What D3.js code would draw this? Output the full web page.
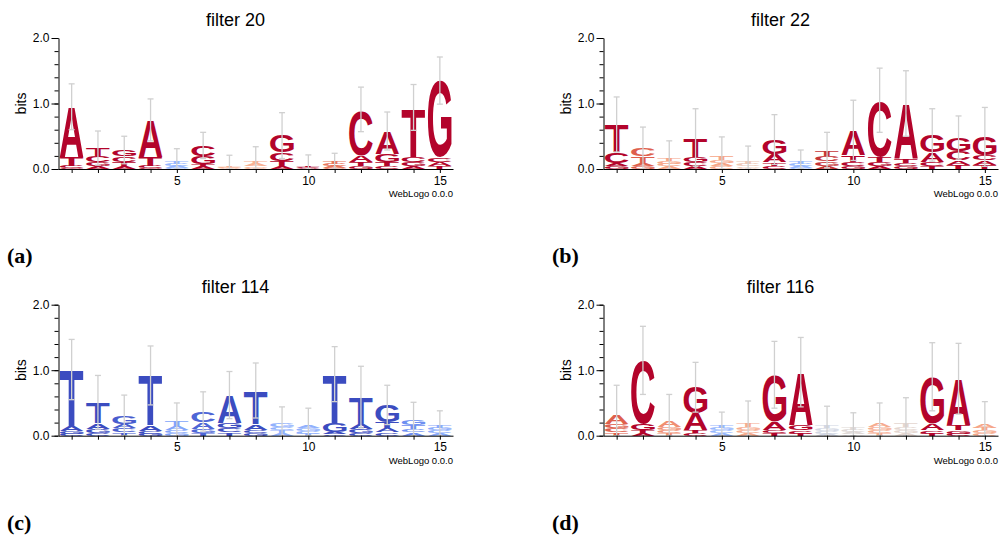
<!DOCTYPE html>
<html>
<head>
<meta charset="utf-8">
<script src="https://cdn.jsdelivr.net/npm/d3@7"></script>
<style>
body { margin: 0; background: #fff; }
svg { display: block; }
</style>
</head>
<body>
<svg id="chart" width="1002" height="543"></svg>
<script>
const positions = d3.range(1, 16);

// filter 20 (bits per base)
const f20A = [0.76, 0.04, 0.04, 0.56, 0.03, 0.03, 0.01, 0.03, 0.04, 0.01, 0.03, 0.11, 0.35, 0.05, 0.06];
const f20C = [0.03, 0.10, 0.09, 0.03, 0.03, 0.16, 0.01, 0.02, 0.13, 0.01, 0.03, 0.70, 0.04, 0.08, 0.07];
const f20G = [0.02, 0.06, 0.10, 0.02, 0.02, 0.13, 0.01, 0.02, 0.26, 0.005, 0.02, 0.04, 0.13, 0.06, 1.17];
const f20T = [0.14, 0.12, 0.06, 0.14, 0.04, 0.04, 0.01, 0.05, 0.08, 0.01, 0.03, 0.06, 0.06, 0.75, 0.05];
const f20Err = [0.35, 0.26, 0.21, 0.32, 0.19, 0.20, 0.17, 0.22, 0.35, 0.18, 0.13, 0.34, 0.29, 0.35, 0.36];
const f20Score = [1, 1, 1, 1, -0.3, 1, 0.3, 0.3, 1, 1, 0.65, 1, 1, 1, 1];

// filter 22
const f22A = [0.05, 0.05, 0.04, 0.04, 0.05, 0.02, 0.13, 0.03, 0.05, 0.38, 0.05, 0.85, 0.15, 0.07, 0.07];
const f22C = [0.17, 0.12, 0.04, 0.06, 0.04, 0.03, 0.05, 0.03, 0.08, 0.06, 0.86, 0.05, 0.06, 0.14, 0.08];
const f22G = [0.04, 0.04, 0.04, 0.09, 0.05, 0.02, 0.22, 0.02, 0.07, 0.05, 0.06, 0.04, 0.26, 0.21, 0.28];
const f22T = [0.42, 0.10, 0.05, 0.29, 0.06, 0.03, 0.05, 0.03, 0.09, 0.10, 0.08, 0.06, 0.05, 0.06, 0.06];
const f22Err = [0.42, 0.33, 0.26, 0.44, 0.29, 0.25, 0.38, 0.18, 0.27, 0.46, 0.49, 0.50, 0.40, 0.33, 0.45];
const f22Score = [1, 0.75, 0.4, 1, 0.4, 0.15, 1, -0.3, 0.9, 1, 1, 1, 1, 1, 1];

// filter 114
const f114A = [0.08, 0.09, 0.07, 0.09, 0.06, 0.10, 0.42, 0.09, 0.04, 0.05, 0.03, 0.08, 0.06, 0.05, 0.04];
const f114C = [0.03, 0.04, 0.06, 0.04, 0.05, 0.17, 0.07, 0.05, 0.05, 0.04, 0.02, 0.04, 0.05, 0.05, 0.04];
const f114G = [0.04, 0.06, 0.12, 0.03, 0.04, 0.06, 0.08, 0.04, 0.06, 0.04, 0.14, 0.06, 0.26, 0.08, 0.04];
const f114T = [0.86, 0.32, 0.05, 0.76, 0.08, 0.04, 0.05, 0.51, 0.04, 0.03, 0.75, 0.41, 0.10, 0.06, 0.04];
const f114Err = [0.46, 0.41, 0.32, 0.45, 0.27, 0.30, 0.36, 0.42, 0.25, 0.26, 0.42, 0.47, 0.30, 0.27, 0.22];
const f114Score = [-1, -1, -0.9, -1, -0.45, -0.85, -1, -1, -0.35, -0.35, -1, -1, -1, -0.6, -0.4];

// filter 116
const f116A = [0.15, 0.04, 0.10, 0.26, 0.04, 0.04, 0.12, 0.81, 0.03, 0.03, 0.07, 0.04, 0.10, 0.71, 0.07];
const f116C = [0.06, 0.97, 0.05, 0.04, 0.04, 0.05, 0.05, 0.05, 0.04, 0.03, 0.05, 0.05, 0.05, 0.03, 0.04];
const f116G = [0.07, 0.10, 0.05, 0.40, 0.04, 0.05, 0.72, 0.08, 0.04, 0.02, 0.05, 0.04, 0.72, 0.05, 0.04];
const f116T = [0.05, 0.04, 0.04, 0.04, 0.04, 0.07, 0.04, 0.03, 0.05, 0.03, 0.04, 0.06, 0.03, 0.08, 0.04];
const f116Err = [0.44, 0.52, 0.39, 0.38, 0.20, 0.32, 0.51, 0.53, 0.29, 0.24, 0.29, 0.39, 0.52, 0.54, 0.33];
const f116Score = [0.75, 1, 0.55, 1, -0.3, 0.35, 1, 1, -0.05, 0.02, 0.35, 0.05, 1, 1, 0.4];

const titles = ["filter 20", "filter 22", "filter 114", "filter 116"];
const panelLabels = ["(a)", "(b)", "(c)", "(d)"];
const yMajor = [0, 1, 2];
const xLabelled = [5, 10, 15];

const panels = [
    { A: f20A, C: f20C, G: f20G, T: f20T, err: f20Err, score: f20Score },
    { A: f22A, C: f22C, G: f22G, T: f22T, err: f22Err, score: f22Score },
    { A: f114A, C: f114C, G: f114G, T: f114T, err: f114Err, score: f114Score },
    { A: f116A, C: f116C, G: f116G, T: f116T, err: f116Err, score: f116Score }
];

const W = 394.5, H = 131;
const origins = [[58.5, 38], [603.5, 38], [58.5, 304.7], [603.5, 304.7]];
const sans = "'Liberation Sans', Arial, sans-serif";

// coolwarm-ish colour ramp
const color = d3.scaleLinear()
    .domain([-1, -0.75, -0.5, -0.25, 0, 0.25, 0.5, 0.75, 1])
    .range(["#3b4cc0", "#5a78e4", "#7b9ff9", "#9ebeff", "#dddddd", "#f7b89c", "#f49a7b", "#de604d", "#b3042b"])
    .interpolate(d3.interpolateLab);

const x = d3.scaleLinear().domain([0.5, 15.5]).range([0, W]);
const y = d3.scaleLinear().domain([0, 2]).range([H, 0]);
const colW = (x(2) - x(1)) * 0.9;

// tight glyph bounds so letters can be stretched to fill their box
const ctx = document.createElement("canvas").getContext("2d");
ctx.font = "bold 100px 'Liberation Sans'";
const glyph = {};
"ACGT".split("").forEach(ch => {
    const m = ctx.measureText(ch);
    glyph[ch] = { l: m.actualBoundingBoxLeft, r: m.actualBoundingBoxRight, a: m.actualBoundingBoxAscent, d: m.actualBoundingBoxDescent };
});

const svg = d3.select("#chart");

panels.forEach((p, i) => {
    const [ox, oy] = origins[i];
    const g = svg.append("g").attr("transform", `translate(${ox},${oy})`);

    // title
    g.append("text")
        .attr("x", 177).attr("y", -12)
        .attr("text-anchor", "middle")
        .style("font", `18px ${sans}`)
        .text(titles[i]);

    // letters
    const stacks = g.append("g");
    positions.forEach((pos, j) => {
        const letters = ["A", "C", "G", "T"].map(b => ({ b, h: p[b][j] }))
            .sort((a, b) => a.h - b.h);
        let base = 0;
        const fill = color(p.score[j]);
        letters.forEach(l => {
            let y0 = y(base + l.h);
            const y1 = y(base);
            base += l.h;
            // thin white gap between stacked letters
            if (y1 - y0 > 2) y0 += 0.6;
            const h = y1 - y0;
            if (h <= 0.2) return;
            const gl = glyph[l.b];
            const x0 = x(pos) - colW / 2;
            stacks.append("text")
                .attr("transform", `translate(${x0},${y0}) scale(${colW / (gl.l + gl.r)},${h / (gl.a + gl.d)}) translate(${gl.l},${gl.a})`)
                .style("font", `bold 100px 'Liberation Sans'`)
                .attr("fill", fill)
                .text(l.b);
        });
        // error bar
        const top = base, e = p.err[j];
        const lo = Math.max(0, top - e), hi = top + e;
        const eb = stacks.append("g").attr("stroke", "#d0d0d0").attr("stroke-width", 1.3);
        eb.append("line").attr("x1", x(pos)).attr("x2", x(pos)).attr("y1", y(lo)).attr("y2", y(hi));
        eb.append("line").attr("x1", x(pos) - 3).attr("x2", x(pos) + 3).attr("y1", y(hi)).attr("y2", y(hi));
        eb.append("line").attr("x1", x(pos) - 3).attr("x2", x(pos) + 3).attr("y1", y(lo)).attr("y2", y(lo));
    });

    // y axis: minor then major ticks
    g.append("g")
        .call(d3.axisLeft(y).tickValues(d3.range(0, 2.01, 0.2)).tickSize(4).tickSizeOuter(0).tickFormat(() => null))
        .call(a => a.select(".domain").remove())
        .call(a => a.selectAll("text").remove());
    g.append("g")
        .call(d3.axisLeft(y).tickValues(yMajor).tickSize(7).tickPadding(2).tickSizeOuter(0).tickFormat(d3.format(".1f")))
        .call(a => a.selectAll("text").style("font", `12px ${sans}`));

    // x axis
    g.append("g")
        .attr("transform", `translate(0,${H})`)
        .call(d3.axisBottom(x).tickValues(positions).tickSize(4).tickSizeOuter(0)
            .tickFormat(d => xLabelled.includes(d) ? d : ""))
        .call(a => a.selectAll("text").filter(d => !xLabelled.includes(d)).remove())
        .call(a => a.selectAll("text").style("font", `12px ${sans}`));

    g.append("text")
        .attr("transform", `translate(-33,${H / 2}) rotate(-90)`)
        .attr("text-anchor", "middle")
        .style("font", `14px ${sans}`)
        .text("bits");

    g.append("text")
        .attr("x", W).attr("y", H + 28)
        .attr("text-anchor", "end")
        .style("font", `9.5px ${sans}`)
        .text("WebLogo 0.0.0");

    g.append("text")
        .attr("x", -51.5).attr("y", 225)
        .style("font", "bold 22px 'Liberation Serif', 'Times New Roman', serif")
        .text(panelLabels[i]);
});
</script>
</body>
</html>
